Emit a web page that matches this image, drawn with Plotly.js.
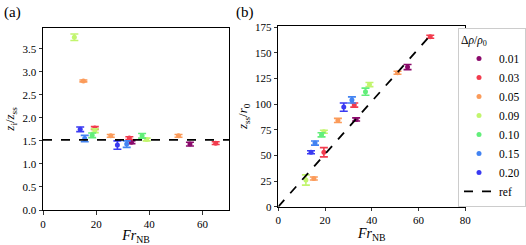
<!DOCTYPE html>
<html>
<head>
<meta charset="utf-8">
<script src="https://cdn.plot.ly/plotly-3.0.1.min.js"></script>
<style>html,body{margin:0;padding:0;background:#fff}#chart{width:526px;height:245px}</style>
</head>
<body>
<div id="chart"></div>
<script>
// Groups (Δρ/ρ0)
const groups = ['0.01','0.03','0.05','0.09','0.10','0.15','0.20'];
const colors = ['#8b0a6c','#f23c4e','#fb9b5a','#c2f56e','#62ee7a','#4283f2','#3a3af2'];

// Fr_NB per group
const frNB = [
  [33.3, 55.3],
  [19.5, 32.5, 65.0],
  [15.2, 25.5, 51.0],
  [11.8, 19.5, 39.0],
  [18.5, 37.3],
  [15.7, 31.5],
  [14.0, 28.0]
];
// Panel (a): z_i / z_ss
const ziRatio = [
  [1.47, 1.43],
  [1.78, 1.56, 1.45],
  [2.80, 1.61, 1.61],
  [3.75, 1.72, 1.53],
  [1.62, 1.61],
  [1.55, 1.43],
  [1.75, 1.41]
];
const ziErr = [
  [0.03, 0.04],
  [0.03, 0.03, 0.03],
  [0.02, 0.03, 0.03],
  [0.07, 0.04, 0.03],
  [0.05, 0.05],
  [0.07, 0.07],
  [0.05, 0.09]
];
// Panel (b): z_ss / r_0
const zssR0 = [
  [85, 136],
  [53, 99, 165.5],
  [27.5, 84, 130.5],
  [26, 73, 119],
  [70, 112],
  [62, 104],
  [53, 97]
];
const zssErr = [
  [1.5, 2.5],
  [4.5, 2, 1.5],
  [1.5, 2, 1.5],
  [5, 1.5, 2],
  [2, 3.5],
  [2, 3],
  [1.5, 4]
];
// Reference lines
const refLevelA = [1.52, 1.52];
const refXA = [0, 70];
const refXB = [0, 64.5];
const refYB = [0, 165.5];

const font = 'Liberation Serif';
const traces = [];
groups.forEach((g, i) => {
  const common = {
    type: 'scatter', mode: 'markers', name: g, legendgroup: g,
    marker: {color: colors[i], size: 5},
    cliponaxis: false
  };
  traces.push(Object.assign({}, common, {
    x: frNB[i], y: ziRatio[i], xaxis: 'x', yaxis: 'y', showlegend: true,
    error_y: {type: 'data', array: ziErr[i], color: colors[i], thickness: 1.6, width: 4}
  }));
  traces.push(Object.assign({}, common, {
    x: frNB[i], y: zssR0[i], xaxis: 'x2', yaxis: 'y2', showlegend: false,
    error_y: {type: 'data', array: zssErr[i], color: colors[i], thickness: 1.6, width: 4}
  }));
});
traces.push({type: 'scatter', mode: 'lines', x: refXA, y: refLevelA, xaxis: 'x', yaxis: 'y',
  line: {color: '#000', dash: 'dash', width: 1.8}, showlegend: false, hoverinfo: 'skip'});
traces.push({type: 'scatter', mode: 'lines', x: refXB, y: refYB, xaxis: 'x2', yaxis: 'y2',
  name: 'ref', line: {color: '#000', dash: 'dash', width: 1.8}, showlegend: true});

const axBase = {
  showline: true, linecolor: '#000', linewidth: 1, mirror: true,
  ticks: 'outside', ticklen: 3.5, tickwidth: 0.8, tickcolor: '#000',
  showgrid: false, zeroline: false,
  tickfont: {family: font, size: 11, color: '#000'}
};
const xTitle = {text: '<i>Fr</i><sub>NB</sub>', font: {family: font, size: 14, color: '#000'}, standoff: 2};

const layout = {
  width: 526, height: 245,
  margin: {l: 0, r: 0, t: 0, b: 0, autoexpand: false},
  paper_bgcolor: '#fff', plot_bgcolor: '#fff',
  font: {family: font, color: '#000'},
  xaxis: Object.assign({}, axBase, {domain: [43/526, 229/526], range: [0, 70], tickvals: [0,20,40,60], anchor: 'y', title: xTitle}),
  yaxis: Object.assign({}, axBase, {domain: [35/245, 217/245], range: [0, 3.95], tickvals: [0,0.5,1,1.5,2,2.5,3,3.5], tickformat: '.1f', anchor: 'x',
    title: {text: '<i>z</i><sub>i</sub>/<i>z</i><sub>ss</sub>', font: {family: font, size: 13, color: '#000'}, standoff: 4}}),
  xaxis2: Object.assign({}, axBase, {domain: [278.3/526, 465.3/526], range: [0, 80], tickvals: [0,20,40,60,80], anchor: 'y2', title: xTitle}),
  yaxis2: Object.assign({}, axBase, {domain: [38.3/245, 219/245], range: [0, 176], tickvals: [0,25,50,75,100,125,150,175], anchor: 'x2',
    title: {text: '<i>z</i><sub>ss</sub>/<i>r</i><sub>0</sub>', font: {family: font, size: 13, color: '#000'}, standoff: 4}}),
  legend: {
    x: 458/526, xanchor: 'left', y: (245-28)/245, yanchor: 'top',
    bgcolor: '#fff', bordercolor: '#cccccc', borderwidth: 1,
    font: {family: font, size: 11.5, color: '#000'},
    title: {text: 'Δ<i>ρ</i>/<i>ρ</i><sub>0</sub>', font: {family: font, size: 11.5, color: '#000'}, side: 'top'},
    itemwidth: 30, tracegroupgap: 0
  },
  annotations: [
    {text: '(a)', x: 2/526, y: 1 - 13/245, xref: 'paper', yref: 'paper', xanchor: 'left', yanchor: 'middle', showarrow: false, font: {family: font, size: 15, color: '#000'}},
    {text: '(b)', x: 234/526, y: 1 - 13/245, xref: 'paper', yref: 'paper', xanchor: 'left', yanchor: 'middle', showarrow: false, font: {family: font, size: 15, color: '#000'}}
  ],
  showlegend: true
};
Plotly.newPlot('chart', traces, layout, {displayModeBar: false, staticPlot: true});
</script>
</body>
</html>
